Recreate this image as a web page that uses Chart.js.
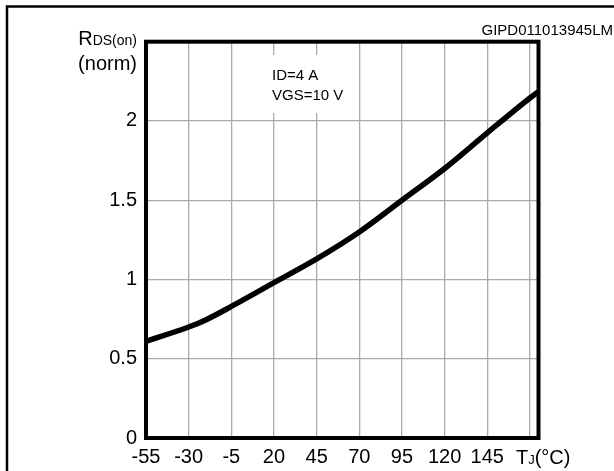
<!DOCTYPE html>
<html>
<head>
<meta charset="utf-8">
<script src="https://cdn.jsdelivr.net/npm/chart.js@4.4.0/dist/chart.umd.min.js"></script>
<style>
  html, body { margin: 0; padding: 0; background: #fff; }
  #wrap { width: 614px; height: 471px; }
</style>
</head>
<body>
<div id="wrap"><canvas id="c" width="614" height="471"></canvas></div>
<script>
// ---- data ----
const temps   = [-55, -30, -20, -5, 20, 45, 70, 95, 120, 145, 170, 175];
const rdsNorm = [0.61, 0.70, 0.745, 0.83, 0.98, 1.13, 1.30, 1.50, 1.70, 1.925, 2.145, 2.185];
const xTicks = [-55, -30, -5, 20, 45, 70, 95, 120, 145, 170];
const xTickLabels = ['-55', '-30', '-5', '20', '45', '70', '95', '120', '145', ''];
const yTicks = [0, 0.5, 1, 1.5, 2, 2.5];
const yTickLabels = ['0', '0.5', '1', '1.5', '2', ''];
const xRange = [-55, 175];
const yRange = [0, 2.5];
const noteLines = ['ID=4 A', 'VGS=10 V'];
const codeLabel = 'GIPD011013945LM';

const FONT = '"Liberation Sans", Arial, sans-serif';

const points = temps.map((t, i) => ({ x: t, y: rdsNorm[i] }));

const decor = {
  id: 'decor',
  beforeDatasetsDraw(chart) {
    const ctx = chart.ctx;
    const xs = chart.scales.x;
    ctx.save();
    ctx.fillStyle = '#fff';
    const bx = xs.getPixelForValue(20) - 6;
    ctx.fillRect(bx, 55, 84, 58);
    ctx.fillStyle = '#000';
    ctx.font = '15px ' + FONT;
    ctx.textBaseline = 'middle';
    ctx.textAlign = 'left';
    ctx.fillText(noteLines[0], bx + 4, 76);
    ctx.fillText(noteLines[1], bx + 4, 96);
    ctx.restore();
  },
  afterDatasetsDraw(chart) {
    const ctx = chart.ctx;
    const a = chart.chartArea;
    ctx.save();
    ctx.strokeStyle = '#000';
    ctx.lineWidth = 4;
    ctx.strokeRect(a.left, a.top, a.right - a.left, a.bottom - a.top);
    ctx.lineWidth = 2.5;
    ctx.beginPath();
    ctx.moveTo(7, 480);
    ctx.lineTo(7, 6.5);
    ctx.lineTo(620, 6.5);
    ctx.stroke();

    ctx.fillStyle = '#000';
    ctx.textBaseline = 'alphabetic';
    ctx.font = '14px ' + FONT;
    const sub = 'DS(on)';
    const subW = ctx.measureText(sub).width;
    ctx.textAlign = 'right';
    ctx.fillText(sub, 137, 45);
    ctx.font = '20px ' + FONT;
    ctx.fillText('R', 137 - subW, 45);
    ctx.fillText('(norm)', 137, 70);

    const x170 = chart.scales.x.getPixelForValue(170);
    let tx = x170 - 14;
    const by = 464;
    ctx.textAlign = 'left';
    ctx.font = '20px ' + FONT;
    ctx.fillText('T', tx, by);
    tx += ctx.measureText('T').width;
    ctx.font = '13px ' + FONT;
    ctx.fillText('J', tx, by);
    tx += ctx.measureText('J').width;
    ctx.font = '20px ' + FONT;
    ctx.fillText('(°C)', tx, by);

    ctx.font = '15px ' + FONT;
    ctx.textAlign = 'right';
    ctx.fillText(codeLabel, 613, 35);
    ctx.restore();
  }
};

new Chart(document.getElementById('c'), {
  type: 'line',
  data: {
    datasets: [{
      data: points,
      borderColor: '#000',
      borderWidth: 5.5,
      pointRadius: 0,
      fill: false,
      cubicInterpolationMode: 'monotone',
      borderCapStyle: 'round'
    }]
  },
  options: {
    responsive: false,
    animation: false,
    devicePixelRatio: 1,
    layout: { padding: { left: 0, right: 75.5, top: 41.7, bottom: 0 } },
    plugins: { legend: { display: false }, tooltip: { enabled: false } },
    scales: {
      x: {
        type: 'linear',
        min: xRange[0], max: xRange[1],
        afterBuildTicks(scale) { scale.ticks = xTicks.map(v => ({ value: v })); },
        afterFit(scale) { scale.height = 33; },
        grid: { color: '#aaaaaa', lineWidth: 1.3, drawTicks: false },
        border: { display: false },
        ticks: {
          autoSkip: false, maxRotation: 0, padding: 7, color: '#000',
          font: { family: FONT, size: 20 },
          callback(v) { const i = xTicks.indexOf(v); return i >= 0 ? xTickLabels[i] : ''; }
        }
      },
      y: {
        type: 'linear',
        min: yRange[0], max: yRange[1],
        afterBuildTicks(scale) { scale.ticks = yTicks.map(v => ({ value: v })); },
        afterFit(scale) { scale.width = 146; },
        grid: { color: '#aaaaaa', lineWidth: 1.3, drawTicks: false },
        border: { display: false },
        ticks: {
          autoSkip: false, padding: 9, color: '#000',
          font: { family: FONT, size: 20 },
          callback(v) { const i = yTicks.indexOf(v); return i >= 0 ? yTickLabels[i] : ''; }
        }
      }
    }
  },
  plugins: [decor]
});
</script>
</body>
</html>
